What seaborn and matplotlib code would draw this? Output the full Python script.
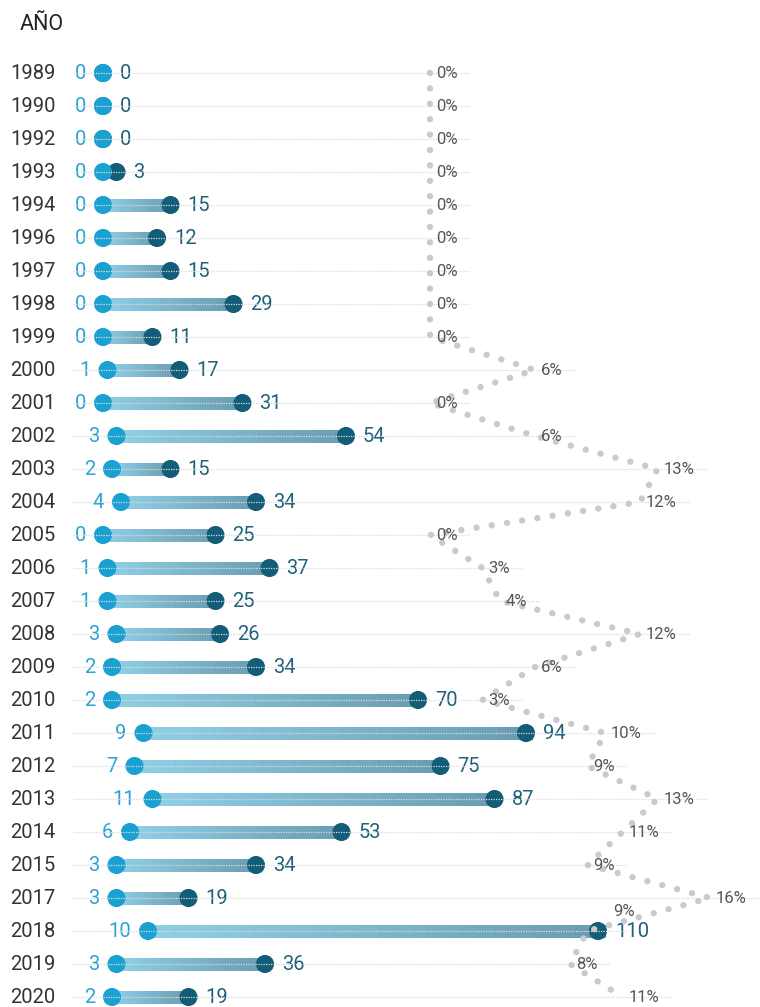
import numpy as np
import pandas as pd
import seaborn as sns
import matplotlib.pyplot as plt
from matplotlib.collections import LineCollection
from matplotlib.colors import to_rgb

# data
years = ['1989', '1990', '1992', '1993', '1994', '1996', '1997', '1998', '1999',
         '2000', '2001', '2002', '2003', '2004', '2005', '2006', '2007', '2008',
         '2009', '2010', '2011', '2012', '2013', '2014', '2015', '2017', '2018',
         '2019', '2020']
low = [0, 0, 0, 0, 0, 0, 0, 0, 0, 1, 0, 3, 2, 4, 0, 1, 1, 3, 2, 2, 9, 7, 11, 6,
       3, 3, 10, 3, 2]
high = [0, 0, 0, 3, 15, 12, 15, 29, 11, 17, 31, 54, 15, 34, 25, 37, 25, 26, 34,
        70, 94, 75, 87, 53, 34, 19, 110, 36, 19]
pct = [0, 0, 0, 0, 0, 0, 0, 0, 0, 6, 0, 6, 13, 12, 0, 3, 4, 12, 6, 3, 10, 9, 13,
       11, 9, 16, 9, 8, 11]

df = pd.DataFrame({'year': years, 'low': low, 'high': high, 'pct': pct})
df['row'] = np.arange(len(df))

sns.set_style('white')
plt.rcParams['font.family'] = ['Roboto', 'DejaVu Sans']

W, H = 760, 1007
fig = plt.figure(figsize=(W / 100, H / 100), dpi=100)
ax = fig.add_axes([0, 0, 1, 1])

# pixel layout of the scales
x0, kx = 103, 4.5       # count axis: zero position and px per unit
p0, kp = 430, 17.5      # percent axis
y0, ky = 73, 33         # first row and row spacing

ax.set_xlim(-x0 / kx, (W - x0) / kx)
ax.set_ylim(len(df) - 1 + (H - 997) / ky, -y0 / ky)
ax.axis('off')

pax = ax.twiny()
pax.set_xlim(-p0 / kp, (W - p0) / kp)
pax.set_ylim(ax.get_ylim())
pax.axis('off')

# faint row guides
for r, p, lab in zip(df['row'], df['pct'], df['pct'].astype(str) + '%'):
    end = p + (7 + len(lab) * 9.5 + 14) / kp
    pax.plot([(73 - p0) / kp, end], [r, r], color='#dcdcdc', lw=0.9,
             linestyle=(0, (1, 1)), zorder=0)

# gradient bars between low and high
c1, c2 = np.array(to_rgb('#8fcfe6')), np.array(to_rgb('#6a9db3'))
for r, lo, hi in zip(df['row'], df['low'], df['high']):
    if hi <= lo:
        continue
    xs = np.linspace(lo, hi, 40)
    step = xs[1] - xs[0]
    segs = [[(xs[i], r), (xs[i + 1] + step * 0.6, r)] for i in range(len(xs) - 1)]
    t = np.linspace(0, 1, len(segs))[:, None]
    cols = c1 * (1 - t) + c2 * t
    ax.add_collection(LineCollection(segs, colors=cols, linewidths=8,
                                     capstyle='butt', antialiaseds=False,
                                     zorder=2))

sns.scatterplot(data=df, x='high', y='row', ax=ax, color='#135d78', s=170,
                edgecolor='none', zorder=3, legend=False)
sns.scatterplot(data=df, x='low', y='row', ax=ax, color='#1ba1d1', s=170,
                edgecolor='none', zorder=4, legend=False)

# dotted percent line
pax.plot(df['pct'], df['row'], color='#cacaca', lw=4.6, linestyle=(0, (0.01, 2.4)),
         dash_capstyle='round', zorder=1)

for r, y, lo, hi, p in zip(df['row'], df['year'], df['low'], df['high'], df['pct']):
    ax.text(10 / W, r, y, transform=ax.get_yaxis_transform(), ha='left',
            va='center', fontsize=14.5, color='#333333')
    ax.text(lo - 17 / kx, r, str(lo), ha='right', va='center', fontsize=14.5,
            color='#2aa3d3', zorder=5,
            bbox=dict(facecolor='white', edgecolor='none', pad=0.5))
    ax.text(hi + 17 / kx, r, str(hi), ha='left', va='center', fontsize=14.5,
            color='#1f607a', zorder=5,
            bbox=dict(facecolor='white', edgecolor='none', pad=0.5))
    dx, dy = 6, 0
    if y == '2018':
        dx, dy = 26, -0.58
    pax.text(p + dx / kp, r + dy, f'{p}%', ha='left', va='center',
             fontsize=12, color='#555555', zorder=5)

fig.text(20 / W, 1 - 25 / H, 'AÑO', ha='left', va='center', fontsize=15.5,
         color='#222222')

plt.savefig('out.png', dpi=100)
